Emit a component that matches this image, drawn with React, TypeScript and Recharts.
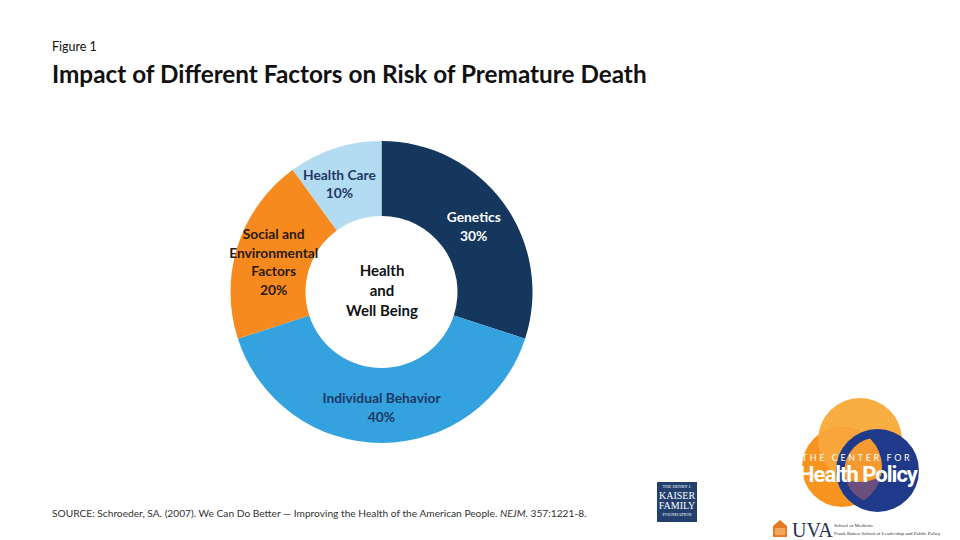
import React from 'react';
import { PieChart, Pie, Cell } from 'recharts';

const categories = ['Genetics', 'Individual Behavior', 'Social and Environmental Factors', 'Health Care'];
const values = [30, 40, 20, 10];
const labelLines = [
  ['Genetics', '30%'],
  ['Individual Behavior', '40%'],
  ['Social and', 'Environmental', 'Factors', '20%'],
  ['Health Care', '10%'],
];
const colors = ['#15365d', '#33a2df', '#f68a1f', '#b3dcf2'];
const labelColors = ['#ffffff', '#1f3864', '#2a1a0e', '#1f3864'];
const centerLines = ['Health', 'and', 'Well Being'];

// label placement style tweaks (pixels), not data
const labelNudgeX = [-2, 0, 3, -6];
const labelNudgeY = [2, -2, 5, 2];

const data = categories.map((name, i) => ({ name, value: values[i] }));

const FONT = 'Lato, "Open Sans", sans-serif';
const RAD = Math.PI / 180;

const renderLabel = (props: any) => {
  const { cx, cy, midAngle, innerRadius, outerRadius, index } = props;
  const r = (innerRadius + outerRadius) / 2 + 3;
  const x = cx + r * Math.cos(-midAngle * RAD) + labelNudgeX[index];
  const y = cy + r * Math.sin(-midAngle * RAD) + labelNudgeY[index];
  const lines = labelLines[index];
  const lh = 18.5;
  const y0 = y - ((lines.length - 1) * lh) / 2;
  return (
    <text
      x={x}
      y={y0}
      textAnchor="middle"
      dominantBaseline="central"
      fill={labelColors[index]}
      fontFamily={FONT}
      fontWeight={700}
      fontSize={13.8}
    >
      {lines.map((l, k) => (
        <tspan key={k} x={x} y={y0 + k * lh}>
          {l}
        </tspan>
      ))}
    </text>
  );
};

export default function App() {
  return (
    <div
      style={{
        position: 'absolute',
        left: 0,
        top: 0,
        width: 960,
        height: 540,
        background: '#ffffff',
        overflow: 'hidden',
        fontFamily: FONT,
      }}
    >
      <div style={{ position: 'absolute', left: 52, top: 39, fontSize: 12.5, color: '#111' }}>Figure 1</div>
      <div style={{ position: 'absolute', left: 52, top: 59, fontSize: 24.3, fontWeight: 700, color: '#111', whiteSpace: 'nowrap' }}>
        Impact of Different Factors on Risk of Premature Death
      </div>
      <div style={{ position: 'absolute', left: 0, top: 0 }}>
        <PieChart width={960} height={540} margin={{ top: 0, right: 0, bottom: 0, left: 0 }}>
          <Pie
            data={data}
            dataKey="value"
            nameKey="name"
            cx={381.5}
            cy={292}
            innerRadius={76}
            outerRadius={151}
            startAngle={90}
            endAngle={-270}
            stroke="none"
            label={renderLabel}
            labelLine={false}
            isAnimationActive={false}
          >
            {data.map((d, i) => (
              <Cell key={d.name} fill={colors[i]} />
            ))}
          </Pie>
        </PieChart>
      </div>
      <div
        style={{
          position: 'absolute',
          left: 322,
          top: 260,
          width: 120,
          textAlign: 'center',
          fontSize: 15,
          fontWeight: 700,
          lineHeight: '20px',
          color: '#111',
        }}
      >
        {centerLines.map((l) => (
          <div key={l}>{l}</div>
        ))}
      </div>
      <div style={{ position: 'absolute', left: 52, top: 507, fontSize: 10.2, color: '#333', whiteSpace: 'nowrap' }}>
        SOURCE: Schroeder, SA. (2007). We Can Do Better — Improving the Health of the American People. <i>NEJM</i>. 357:1221-8.
      </div>

      {/* KFF logo */}
      <div
        style={{
          position: 'absolute',
          left: 657,
          top: 482,
          width: 40,
          height: 40,
          background: '#223f6e',
          color: '#fff',
          fontFamily: '"Liberation Serif", serif',
          textAlign: 'center',
          lineHeight: 1,
        }}
      >
        <div style={{ fontSize: 4.5, marginTop: 3 }}>THE HENRY J.</div>
        <div style={{ fontSize: 10, marginTop: 1 }}>KAISER</div>
        <div style={{ fontSize: 10 }}>FAMILY</div>
        <div style={{ fontSize: 4.5, marginTop: 2 }}>FOUNDATION</div>
      </div>

      {/* Center for Health Policy logo */}
      <svg style={{ position: 'absolute', left: 0, top: 0 }} width={960} height={540}>
        <defs>
          <clipPath id="innerNavy">
            <circle cx={877.5} cy={470.5} r={33} />
          </clipPath>
          <clipPath id="leftCircle">
            <circle cx={842} cy={467} r={40} />
          </clipPath>
        </defs>
        <circle cx={860} cy={440} r={42} fill="#f9ae42" />
        <circle cx={842} cy={467} r={40} fill="#f6941f" />
        <g clipPath="url(#leftCircle)">
          <circle cx={860} cy={440} r={42} fill="#f8a53a" />
        </g>
        <circle cx={877.5} cy={470.5} r={41.5} fill="#1f3a8a" />
        <g clipPath="url(#innerNavy)">
          <circle cx={842} cy={467} r={40} fill="#6b4d7e" />
          <g clipPath="url(#leftCircle)">
            <circle cx={860} cy={440} r={42} fill="#f59a30" />
          </g>
        </g>
        <text x={857} y={461} textAnchor="middle" fill="#fff" fontFamily={FONT} fontSize={9} letterSpacing={2.6}>
          THE CENTER FOR
        </text>
        <text x={858} y={482} textAnchor="middle" fill="#fff" fontFamily='"Roboto", sans-serif' fontWeight={700} fontSize={22} letterSpacing={-1}>
          Health Policy
        </text>
        <path d="M773 537 L773 526 L780 520 L787 526 L787 537 Z" fill="#e57a22" />
        <rect x={775} y={528} width={10} height={7} fill="#f4a65a" />
        <text x={792} y={537} fill="#232d4b" fontFamily='"Liberation Serif", serif' fontSize={20}>
          UVA
        </text>
        <text x={834} y={527} fill="#333" fontFamily='"Liberation Serif", serif' fontSize={5}>
          School of Medicine
        </text>
        <text x={834} y={535} fill="#333" fontFamily='"Liberation Serif", serif' fontSize={5}>
          Frank Batten School of Leadership and Public Policy
        </text>
      </svg>
    </div>
  );
}
